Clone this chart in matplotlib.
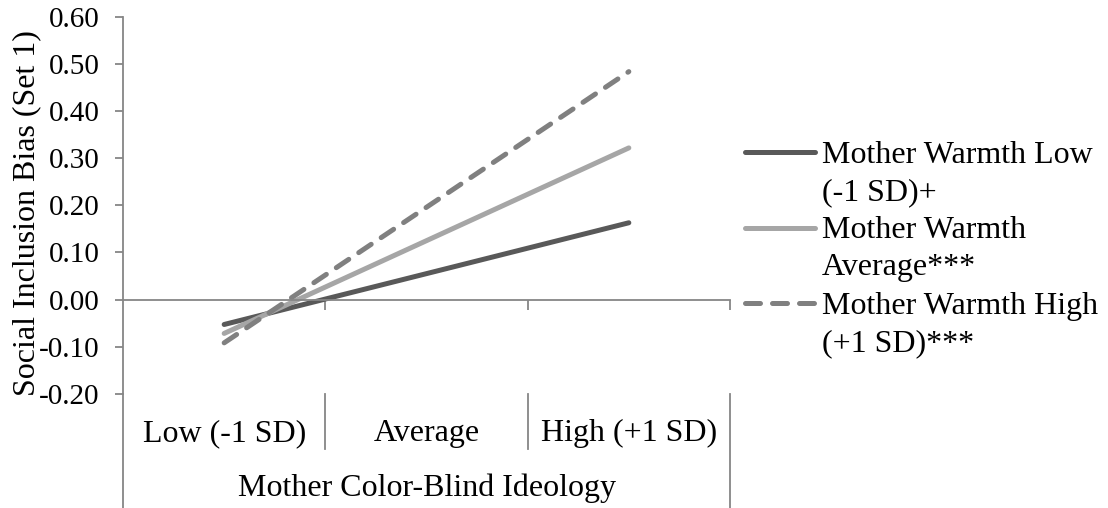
import numpy as np
import matplotlib
matplotlib.use("Agg")
from matplotlib import pyplot as plt
from matplotlib.lines import Line2D

categories = ["Low (-1 SD)", "Average", "High (+1 SD)"]
series_names = [("Mother Warmth Low", "(-1 SD)+"),
                ("Mother Warmth", "Average***"),
                ("Mother Warmth High", "(+1 SD)***")]
low_warmth = [-0.053, 0.055, 0.163]
avg_warmth = [-0.072, 0.125, 0.322]
high_warmth = [-0.092, 0.196, 0.484]
y_ticks = [-0.20, -0.10, 0.00, 0.10, 0.20, 0.30, 0.40, 0.50, 0.60]

plt.rcParams['font.family'] = ['Liberation Serif', 'DejaVu Serif']
plt.rcParams['font.size'] = 23

W, H = 1108, 508
fig = plt.figure(figsize=(W / 100, H / 100), dpi=100)
# plot area: x 123..730 px, y 17..393.7 px
ax = fig.add_axes([123 / W, 1 - 393.7 / H, (730 - 123) / W, (393.7 - 17) / H])

axis_col = "#868686"
styles = [dict(color="#595959", ls="-"),
          dict(color="#a6a6a6", ls="-"),
          dict(color="#808080", ls=(0, (3.0, 2.4)))]
x = np.arange(len(categories)) + 0.5
for vals, st in zip([low_warmth, avg_warmth, high_warmth], styles):
    ax.plot(x, vals, lw=3.6, solid_capstyle="round", dash_capstyle="round", **st)

ax.set_xlim(0, 3)
ax.set_ylim(-0.2, 0.6)
ax.set_yticks(y_ticks)
ax.set_yticklabels([f"{v:.2f}" for v in y_ticks], fontsize=21)
ax.tick_params(axis="y", direction="out", length=6, width=1.3, color=axis_col, pad=11)

for s in ["top", "right"]:
    ax.spines[s].set_visible(False)
ax.spines["left"].set_color(axis_col)
ax.spines["left"].set_linewidth(1.3)
ax.spines["bottom"].set_position(("data", 0))
ax.spines["bottom"].set_color(axis_col)
ax.spines["bottom"].set_linewidth(1.3)
ax.set_xticks([1, 2, 3])
ax.set_xticklabels([])
ax.tick_params(axis="x", direction="out", length=7, width=1.3, color=axis_col)

# multilevel category axis below the plot area
tr = ax.get_xaxis_transform()
for i, c in enumerate(categories):
    ax.text(i + 0.5, -0.105, c, transform=tr, ha="center", va="center", clip_on=False)
for xb in [1, 2]:
    ax.plot([xb, xb], [0, -0.147], transform=tr, color=axis_col, lw=1.3, clip_on=False)
ax.plot([0, 0], [0, -0.32], transform=tr, color=axis_col, lw=1.3, clip_on=False)
ax.plot([3, 3], [0, -0.32], transform=tr, color=axis_col, lw=1.3, clip_on=False)
ax.text(1.5, -0.25, "Mother Color-Blind Ideology", transform=tr, ha="center", va="center",
        clip_on=False)

ax.set_ylabel("Social Inclusion Bias (Set 1)")
ax.yaxis.set_label_coords(-0.135, 0.48)

# legend, handle aligned with the first text line as in the original
for k, ((l1, l2), st) in enumerate(zip(series_names, styles)):
    yp = 152 + 75.5 * k
    fig.add_artist(Line2D([745 / W, 815 / W], [1 - yp / H, 1 - yp / H], lw=3.6,
                          solid_capstyle="round", dash_capstyle="round", **st))
    fig.text(822 / W, 1 - yp / H, l1, ha="left", va="center_baseline")
    fig.text(822 / W, 1 - (yp + 37) / H, l2, ha="left", va="center_baseline")

fig.savefig("out.png", dpi=100)
